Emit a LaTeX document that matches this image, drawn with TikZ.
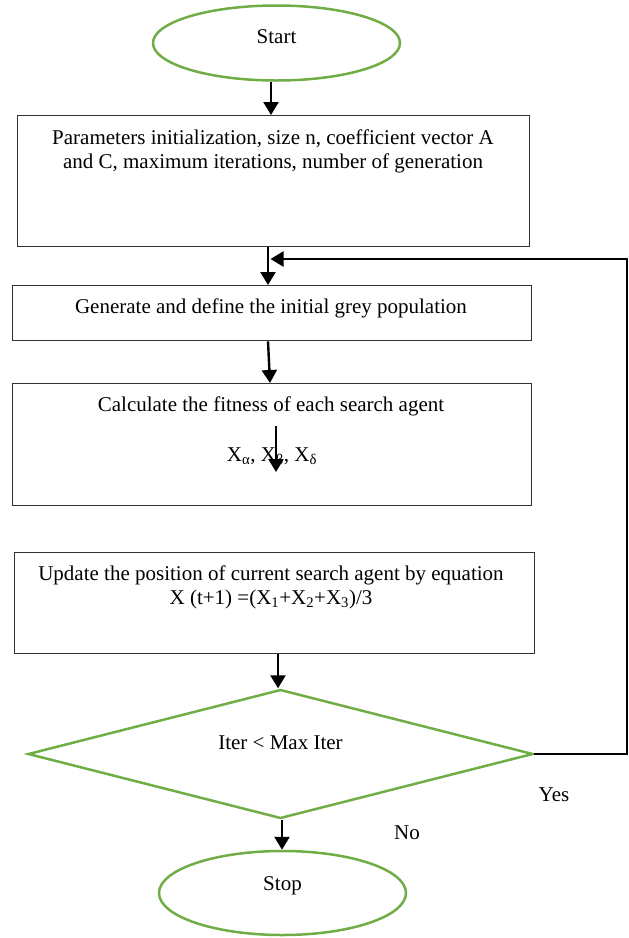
\documentclass[tikz,border=0pt]{standalone}
\usepackage{fontspec}
\setmainfont{Liberation Serif}
\usetikzlibrary{shapes.geometric,arrows.meta,calc}
\definecolor{ogreen}{RGB}{112,173,71}
\begin{document}
\begin{tikzpicture}[x=1pt,y=-1pt,
  font=\fontsize{21}{24}\selectfont,
  box/.style={draw=black!80, line width=1.3pt, anchor=north west, inner sep=0pt},
  term/.style={ellipse, draw=ogreen, line width=2.5pt, minimum width=247pt, inner sep=0pt},
  dec/.style={diamond, draw=ogreen, line width=2.5pt, shape aspect=3.9, minimum width=505pt, minimum height=129pt, inner sep=0pt},
  arr/.style={line width=2.4pt, -{Triangle[length=13pt,width=15pt]}},
  txt/.style={align=center, inner sep=0pt}
]
\useasboundingbox (0,0) rectangle (629,938);

% terminals
\node[term, minimum height=75pt, text depth=12pt] (start) at (276.5,43) {Start};
\node[term, minimum height=84pt, text depth=18pt] (stop) at (282.5,893) {Stop};

% process boxes
\node[box, minimum width=512pt, minimum height=131pt] (b1) at (17,115) {};
\node[box, minimum width=519pt, minimum height=55pt]  (b2) at (12,285) {};
\node[box, minimum width=519pt, minimum height=122pt] (b3) at (12,383) {};
\node[box, minimum width=520pt, minimum height=101pt] (b4) at (14,552) {};

% decision
\node[dec, text depth=22pt] (dia) at (280.5,754) {Iter {<} Max Iter};

% texts
\node[txt] (t1) at (273,151) {Parameters initialization, size n, coefficient vector A\\and C, maximum iterations, number of generation};
\node[txt] (t2) at (271,308) {Generate and define the initial grey population};
\node[txt] (t3) at (271,406) {Calculate the fitness of each search agent};
\node[txt] (t3b) at (272,458) {X\textsubscript{α}, X\textsubscript{β}, X\textsubscript{δ}};
\node[txt] (t4) at (271,587) {Update the position of current search agent by equation\\X (t+1) =(X\textsubscript{1}+X\textsubscript{2}+X\textsubscript{3})/3};
\node[txt] (yes) at (554,795) {Yes};
\node[txt] (no) at (407,833) {No};

% helper coordinates
\coordinate (a1) at (271,0);
\coordinate (a2) at (268,0);
\coordinate (a3) at (270,0);
\coordinate (a4) at (278,0);
\coordinate (a5) at (282,0);
\coordinate (fbx) at (627,0);
\coordinate (fbe) at (270.5,259);
\coordinate (i1) at (276,426);
\coordinate (i2) at (276,472);

% connectors
\draw[arr] (start.south -| a1) -- (b1.north -| a1);
\draw[arr] (b1.south -| a2) -- (b2.north -| a2);
\draw[arr] (b2.south -| a2) -- (b3.north -| a3);
\draw[arr] (i1) -- (i2);
\draw[arr] (b4.south -| a4) -- (dia.north -| a4);
\draw[arr] (dia.south -| a5) -- (stop.north -| a5);
\draw[arr] (dia.east) -| (fbe -| fbx) -- (fbe);
\end{tikzpicture}
\end{document}
